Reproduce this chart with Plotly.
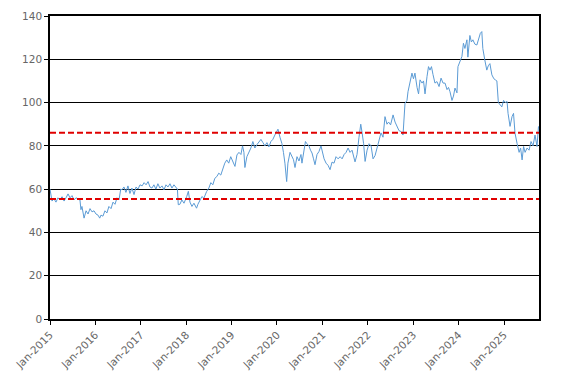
import plotly.graph_objects as go

dates = [
"2015-01-01","2015-01-09","2015-01-17","2015-02-02","2015-02-18","2015-03-06","2015-03-22","2015-04-08","2015-04-24","2015-05-10",
"2015-05-26","2015-06-11","2015-06-27","2015-07-13","2015-07-29","2015-08-14","2015-08-30","2015-09-07","2015-09-15","2015-10-02",
"2015-10-18","2015-11-03","2015-11-19","2015-12-05","2015-12-21",
"2016-01-06","2016-01-22","2016-02-05","2016-02-15","2016-03-02","2016-03-18","2016-04-03","2016-04-19","2016-05-06","2016-05-22",
"2016-06-07","2016-06-23","2016-07-09","2016-07-23","2016-08-02","2016-08-18","2016-09-03","2016-09-19","2016-10-05","2016-10-21",
"2016-11-07","2016-11-23","2016-12-09","2016-12-25",
"2017-01-11","2017-01-27","2017-02-12","2017-02-28","2017-03-15","2017-03-31","2017-04-16","2017-05-02","2017-05-18","2017-06-03",
"2017-06-20","2017-07-06","2017-07-22","2017-08-07","2017-08-23","2017-09-08","2017-09-24","2017-10-10","2017-10-22","2017-10-29",
"2017-11-11","2017-11-27","2017-12-14",
"2018-01-05","2018-01-18","2018-01-31","2018-02-16","2018-03-04","2018-03-25","2018-04-05","2018-04-21","2018-05-07","2018-05-23",
"2018-06-14","2018-07-02","2018-07-18","2018-08-03","2018-08-19","2018-09-04","2018-09-20","2018-10-06","2018-10-22","2018-11-07",
"2018-11-23","2018-12-09","2018-12-25",
"2019-01-12","2019-01-28","2019-02-13","2019-03-01","2019-03-17","2019-03-30","2019-04-10","2019-04-18","2019-05-04","2019-05-20",
"2019-06-05","2019-06-21","2019-07-07","2019-07-23","2019-08-08","2019-08-25","2019-09-10","2019-09-26","2019-10-12","2019-10-28",
"2019-11-13","2019-11-29","2019-12-15",
"2020-01-01","2020-01-09","2020-01-25","2020-02-10","2020-02-22","2020-03-05","2020-03-19","2020-03-29","2020-04-15","2020-05-01",
"2020-05-13","2020-05-25","2020-06-10","2020-06-26","2020-07-12","2020-07-20","2020-08-05","2020-08-17","2020-08-29","2020-09-14",
"2020-09-27","2020-10-09","2020-10-21","2020-11-02","2020-11-18","2020-12-04","2020-12-20",
"2021-01-02","2021-01-14","2021-01-30","2021-02-15","2021-03-03","2021-03-19","2021-04-04","2021-04-20","2021-05-07","2021-05-23",
"2021-06-08","2021-06-24","2021-07-10","2021-07-26","2021-08-11","2021-08-27","2021-09-20","2021-10-06","2021-10-22","2021-11-05",
"2021-11-16","2021-11-28","2021-12-10","2021-12-26",
"2022-01-11","2022-01-27","2022-02-12","2022-02-28","2022-03-16","2022-04-01","2022-04-17","2022-05-03","2022-05-19","2022-06-04",
"2022-06-17","2022-07-03","2022-07-23","2022-08-08","2022-08-24","2022-09-09","2022-09-25","2022-10-11","2022-10-27","2022-11-12",
"2022-11-20","2022-12-06","2022-12-22",
"2023-01-03","2023-01-15","2023-02-01","2023-02-13","2023-02-25","2023-03-13","2023-03-25","2023-04-06","2023-04-22","2023-05-04",
"2023-05-16","2023-05-28","2023-06-09","2023-06-25","2023-07-11","2023-07-28","2023-08-13","2023-08-29","2023-09-14","2023-09-30",
"2023-10-12","2023-10-24","2023-11-09","2023-11-21","2023-12-03","2023-12-19","2023-12-27",
"2024-01-12","2024-01-28","2024-02-09","2024-02-21","2024-03-08","2024-03-16","2024-04-01","2024-04-13","2024-04-25","2024-05-11",
"2024-05-27","2024-06-12","2024-06-24","2024-07-06","2024-07-14","2024-07-30","2024-08-15","2024-08-27","2024-09-09","2024-09-25",
"2024-10-11","2024-10-23","2024-11-04","2024-11-16","2024-11-28","2024-12-14","2024-12-28",
"2025-01-09","2025-01-25","2025-02-02","2025-02-18","2025-03-06","2025-03-18","2025-03-30","2025-04-16","2025-05-02","2025-05-14",
"2025-05-26","2025-06-07","2025-06-19","2025-07-05","2025-07-21","2025-08-06","2025-08-22","2025-09-07","2025-09-23","2025-10-05",
]

values = [
60,58,54.5,55.5,54,56,55,56.5,54.5,56,
57.8,56,57,55,56,55.5,55,50.5,52,46.6,
50,48.5,51,49.5,50,
48.5,48,46.6,48,47.5,50,49,52,51,54,
53,56,55,60,59.7,61,58.5,61.5,58,60.5,
57.5,61,60,62,
61.5,63,62,63.5,61,60.5,62,60,62.5,60.5,
61.5,59.7,62,61,62.5,60.5,62,61,60,52.8,
53,55,53.5,
56.6,59,54,52,53.5,51.2,53,55,56.6,55.8,
58.9,60.5,63,62,65,65.8,67.4,66.5,69,72,
73.5,72,75,
72.8,70.5,75.8,77,76,80,77,70,75,77,
79,82,79,80.5,82,83,81.5,80,81.5,79.5,
82,83,85,
87.4,87.7,84,81,77,72,63.5,72,77,75,
73.6,70,75,73,76,72,79,82,81,80,
78,76.7,74,71.3,76,77.4,80,
76.8,74,72,71,69,72.5,72,75,74,75,
74,76,77,79,77,78,72.6,76,84,90,
86,81,72.8,78,
81,80,74,75.5,79,83,86,84,93.5,90,
91,89.7,94.3,91,89,87,86.6,85,99.7,101,
105,109.7,113.6,
111,113.6,107,104,110.5,109,110,104,112,116.6,
115,116.6,113,109,109.7,107.4,111.3,109,109,106,
107,105,101,103,106.7,104.5,116.6,
119,121.3,127.4,125,129,121,131,128,129,127,
126.6,130,132,132.8,125,119.7,115,117,118,112.8,
111,110.5,110,100,99,98,101,
100,100.5,95,89,93.5,95,85.9,81,77,79,
73.5,79.7,77,79,78,82,80,85,79.7,89,
]

ref_levels = [86, 55.5]
x_range = ["2015-01-01", "2025-10-09"]
tick_dates = ["%d-01-01" % y for y in range(2015, 2026)]
tick_labels = ["Jan-%d" % y for y in range(2015, 2026)]
y_ticks = [0, 20, 40, 60, 80, 100, 120, 140]

fig = go.Figure()
fig.add_trace(go.Scatter(x=dates, y=values, mode="lines",
                         line=dict(color="#5B9BD5", width=1), showlegend=False))
for lv in ref_levels:
    fig.add_trace(go.Scatter(x=x_range, y=[lv, lv], mode="lines",
                             line=dict(color="#E00000", width=2, dash="6px,3px"),
                             showlegend=False))

font = dict(family="DejaVu Sans", size=10.5, color="#666666")
fig.update_layout(
    width=567, height=383,
    margin=dict(l=42, r=36, t=8, b=72),
    paper_bgcolor="white", plot_bgcolor="white",
    font=font,
    xaxis=dict(type="date", range=x_range, tickvals=tick_dates, ticktext=tick_labels,
               tickangle=-45, showgrid=False, showline=True, linecolor="black", linewidth=1.5,
               ticks="outside", ticklen=4, tickcolor="black", mirror=True, zeroline=False,
               tickfont=font, automargin=False),
    yaxis=dict(range=[0, 140], tickvals=y_ticks, showgrid=True, gridcolor="black", gridwidth=1,
               showline=True, linecolor="black", linewidth=1.5, ticks="outside", ticklen=4,
               tickcolor="black", mirror=True, zeroline=False, tickfont=font, automargin=False),
)
fig.write_html("out.html")
